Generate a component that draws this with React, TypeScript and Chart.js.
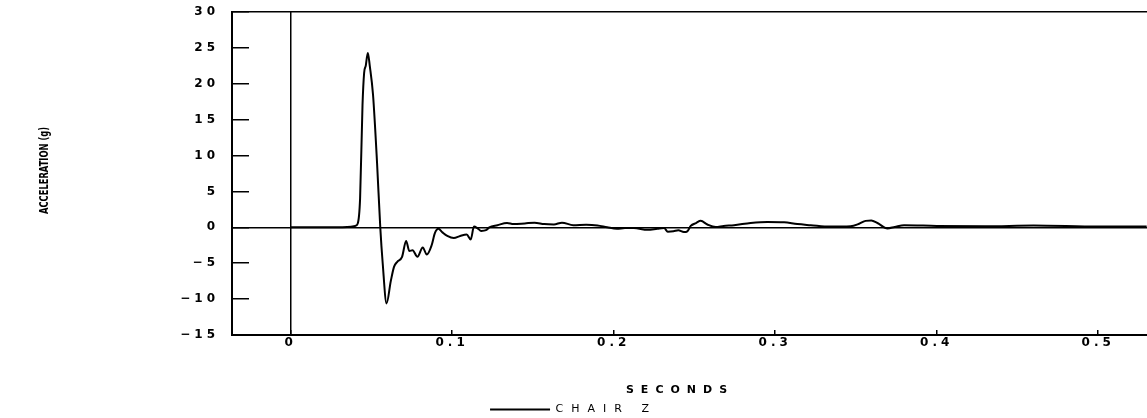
import React, { useEffect, useRef } from 'react';
import { Chart, registerables } from 'chart.js';

Chart.register(...registerables);

// ---- data ----
const TIME_S = [
  0, 0.03, 0.035, 0.04, 0.0415, 0.043, 0.0445, 0.0455, 0.0465, 0.0478,
  0.049, 0.051, 0.0535, 0.0555, 0.057, 0.0594, 0.062, 0.064, 0.066, 0.069,
  0.0715, 0.0735, 0.0755, 0.0785, 0.0818, 0.0843, 0.0873, 0.0893, 0.0915, 0.094,
  0.097, 0.101, 0.105, 0.109, 0.1115, 0.1135, 0.1156, 0.118, 0.121, 0.123,
  0.128, 0.134, 0.138, 0.145, 0.151, 0.157, 0.163, 0.168, 0.175, 0.183,
  0.19, 0.196, 0.202, 0.207, 0.2125, 0.221, 0.227, 0.2312, 0.2335, 0.237,
  0.24, 0.2435, 0.2456, 0.2477, 0.251, 0.2539, 0.258, 0.2632, 0.268, 0.2745,
  0.2848, 0.2952, 0.3055, 0.3137, 0.322, 0.334, 0.3467, 0.352, 0.356, 0.3595,
  0.3633, 0.3695, 0.374, 0.3798, 0.4, 0.43, 0.46, 0.5, 0.53,
];
const CHAIR_Z_G = [
  0, 0, 0.05, 0.2, 0.5, 4, 17, 21.5, 22.5, 24.3,
  22.5, 18.5, 9, 0, -5, -10.6, -7.5, -5.5, -4.8, -4.1,
  -1.9, -3.3, -3.2, -4.1, -2.8, -3.8, -2.5, -0.8, -0.2, -0.7,
  -1.2, -1.5, -1.2, -1.0, -1.7, 0.1, -0.1, -0.5, -0.4, 0,
  0.3, 0.6, 0.45, 0.55, 0.65, 0.45, 0.4, 0.65, 0.3, 0.35,
  0.25, 0, -0.2, -0.1, -0.1, -0.35, -0.2, -0.1, -0.6, -0.55,
  -0.4, -0.65, -0.55, 0.2, 0.6, 0.9, 0.4, 0.05, 0.2, 0.3,
  0.6, 0.75, 0.7, 0.45, 0.3, 0.1, 0.15, 0.5, 0.9, 0.95,
  0.6, -0.15, 0.05, 0.3, 0.2, 0.15, 0.25, 0.1, 0.1,
];
const X_TICKS = [0, 0.1, 0.2, 0.3, 0.4, 0.5];
const X_MIN = -0.0363;
const X_MAX = 0.5302;
const Y_MIN = -15;
const Y_MAX = 30;
const Y_STEP = 5;
const SERIES_LABEL = 'CHAIR Z';
const X_TITLE = 'SECONDS';
const Y_TITLE = 'ACCELERATION (g)';

const FONT = '"DejaVu Sans", sans-serif';
const TICK_SPACING = '4px';
const LEGEND_SPACING = '8px';

const plotterText = {
  id: 'plotterText',
  beforeLayout(chart: any) {
    const lg = chart.legend;
    if (lg && !lg.__spaced) {
      const wrap = (fn: any) =>
        function (this: any, ...args: any[]) {
          const c = chart.ctx;
          const prev = c.letterSpacing;
          c.letterSpacing = LEGEND_SPACING;
          try {
            return fn.apply(this, args);
          } finally {
            c.letterSpacing = prev;
          }
        };
      lg.fit = wrap(lg.fit);
      lg.draw = wrap(lg.draw);
      lg.__spaced = true;
    }
    chart.ctx.letterSpacing = TICK_SPACING;
  },
  beforeDraw(chart: any) {
    chart.ctx.letterSpacing = TICK_SPACING;
  },
  afterDraw(chart: any) {
    const ctx = chart.ctx;
    const a = chart.chartArea;
    ctx.save();
    ctx.fillStyle = '#000';
    ctx.textAlign = 'center';
    ctx.textBaseline = 'middle';
    // x-axis title
    ctx.letterSpacing = '7px';
    ctx.font = `bold 11px ${FONT}`;
    ctx.fillText(X_TITLE, 680, a.bottom + 55);
    // y-axis title (rotated, narrow lettering)
    ctx.letterSpacing = '0px';
    ctx.font = `bold 12px ${FONT}`;
    const w = ctx.measureText(Y_TITLE).width || 1;
    ctx.translate(45, (a.top + a.bottom) / 2 - 3);
    ctx.rotate(-Math.PI / 2);
    ctx.scale(87 / w, 1);
    ctx.fillText(Y_TITLE, 0, 0);
    ctx.restore();
  },
};

export default function App() {
  const ref = useRef<HTMLCanvasElement | null>(null);

  useEffect(() => {
    if (!ref.current) return;
    const points = TIME_S.map((t, i) => ({ x: t, y: CHAIR_Z_G[i] }));
    const chart = new Chart(ref.current, {
      type: 'line',
      data: {
        datasets: [
          {
            label: SERIES_LABEL,
            data: points,
            borderColor: '#000',
            backgroundColor: '#000',
            borderWidth: 2,
            pointRadius: 0,
            cubicInterpolationMode: 'monotone',
            fill: false,
          },
        ],
      },
      options: {
        animation: false,
        responsive: false,
        devicePixelRatio: 1,
        parsing: false,
        layout: { padding: { top: 12, left: 0, right: 0, bottom: -7 } },
        plugins: {
          tooltip: { enabled: false },
          title: { display: false },
          legend: {
            display: true,
            position: 'bottom',
            labels: {
              usePointStyle: true,
              pointStyle: 'line',
              pointStyleWidth: 60,
              color: '#000',
              padding: 10,
              font: { family: FONT, size: 11 },
            },
          },
        },
        scales: {
          x: {
            type: 'linear',
            min: X_MIN,
            max: X_MAX,
            afterBuildTicks: (scale: any) => {
              scale.ticks = X_TICKS.map((v) => ({ value: v }));
            },
            afterFit: (scale: any) => {
              scale.height = 59;
              scale.paddingLeft = 0;
              scale.paddingRight = 0;
            },
            border: { display: true, color: '#000', width: 2 },
            grid: {
              drawTicks: true,
              tickLength: -5,
              tickColor: '#000',
              tickWidth: 1.5,
              lineWidth: 1.5,
              color: (c: any) => (c.tick && c.tick.value === 0 ? '#000' : 'rgba(0,0,0,0)'),
            },
            ticks: {
              color: '#000',
              padding: 6,
              maxRotation: 0,
              autoSkip: false,
              font: { family: FONT, size: 12, weight: 'bold' },
              callback: (v: any) => String(v),
            },
            title: { display: false },
          },
          y: {
            type: 'linear',
            min: Y_MIN,
            max: Y_MAX,
            afterFit: (scale: any) => {
              scale.width = 232;
              scale.paddingTop = 0;
              scale.paddingBottom = 0;
            },
            border: { display: true, color: '#000', width: 2 },
            grid: {
              drawTicks: true,
              tickLength: -17,
              tickColor: '#000',
              tickWidth: 1.5,
              lineWidth: 1.5,
              color: (c: any) =>
                c.tick && (c.tick.value === 0 || c.tick.value === Y_MAX) ? '#000' : 'rgba(0,0,0,0)',
            },
            ticks: {
              stepSize: Y_STEP,
              color: '#000',
              padding: 30,
              font: { family: FONT, size: 12, weight: 'bold' },
              callback: (v: any) => (Number(v) < 0 ? '\u2212' + Math.abs(Number(v)) : String(v)),
            },
            title: { display: false },
          },
        },
      },
      plugins: [plotterText],
    } as any);
    return () => chart.destroy();
  }, []);

  return (
    <div style={{ position: 'absolute', left: 0, top: 0, width: 1147, height: 418, background: '#fff' }}>
      <canvas ref={ref} width={1147} height={418} style={{ width: 1147, height: 418, display: 'block' }} />
    </div>
  );
}
